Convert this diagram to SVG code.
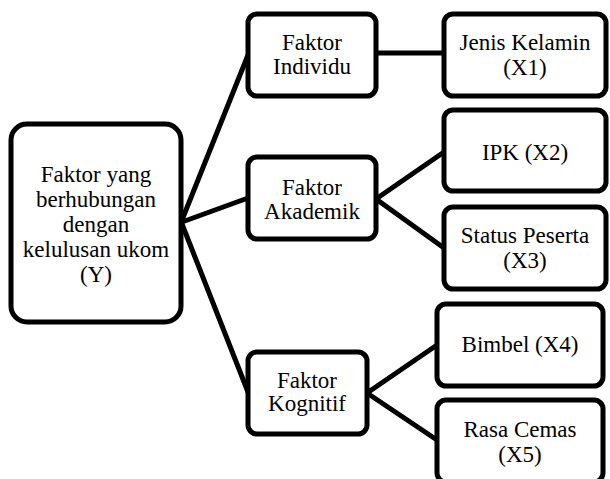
<svg xmlns="http://www.w3.org/2000/svg" width="610" height="479" viewBox="0 0 610 479">
<style>
.box{fill:#fff;stroke:#000;stroke-width:5}
.edge{stroke:#000;stroke-width:5;fill:none;stroke-linecap:round}
.t{font-family:'Liberation Serif','Times New Roman',serif;font-size:23px;fill:#000;text-anchor:middle}
</style>
<rect width="610" height="479" fill="#fff"/>
<g id="connectors">
<line class="edge" x1="182" y1="220" x2="248" y2="55"/>
<line class="edge" x1="182" y1="222" x2="248" y2="198"/>
<line class="edge" x1="182" y1="224" x2="248" y2="392"/>
<line class="edge" x1="376" y1="53" x2="444" y2="53"/>
<line class="edge" x1="376" y1="199" x2="444" y2="152"/>
<line class="edge" x1="376" y1="199" x2="444" y2="248"/>
<line class="edge" x1="367" y1="393" x2="437" y2="345"/>
<line class="edge" x1="367" y1="393" x2="437" y2="440"/>
</g>
<g id="node-y" class="t">
<rect class="box" x="11" y="124" width="170" height="198" rx="16"/>
<text x="96" y="182">Faktor yang</text>
<text x="96" y="207">berhubungan</text>
<text x="96" y="232">dengan</text>
<text x="96" y="257">kelulusan ukom</text>
<text x="96" y="282">(Y)</text>
</g>
<g id="node-individu" class="t">
<rect class="box" x="248" y="14" width="128" height="82" rx="9"/>
<text x="312" y="50">Faktor</text>
<text x="312" y="74">Individu</text>
</g>
<g id="node-akademik" class="t">
<rect class="box" x="248" y="157" width="128" height="82" rx="9"/>
<text x="312" y="195">Faktor</text>
<text x="312" y="219">Akademik</text>
</g>
<g id="node-kognitif" class="t">
<rect class="box" x="248" y="352" width="119" height="82" rx="9"/>
<text x="307" y="388">Faktor</text>
<text x="307" y="411">Kognitif</text>
</g>
<g id="node-x1" class="t">
<rect class="box" x="444" y="14" width="162" height="82" rx="9"/>
<text x="525" y="50">Jenis Kelamin</text>
<text x="525" y="75">(X1)</text>
</g>
<g id="node-x2" class="t">
<rect class="box" x="444" y="110" width="162" height="81" rx="9"/>
<text x="525" y="160">IPK (X2)</text>
</g>
<g id="node-x3" class="t">
<rect class="box" x="444" y="207" width="162" height="82" rx="9"/>
<text x="525" y="243">Status Peserta</text>
<text x="525" y="268">(X3)</text>
</g>
<g id="node-x4" class="t">
<rect class="box" x="437" y="304" width="166" height="82" rx="9"/>
<text x="520" y="352">Bimbel (X4)</text>
</g>
<g id="node-x5" class="t">
<rect class="box" x="437" y="400" width="166" height="82" rx="9"/>
<text x="520" y="437">Rasa Cemas</text>
<text x="520" y="462">(X5)</text>
</g>
</svg>
